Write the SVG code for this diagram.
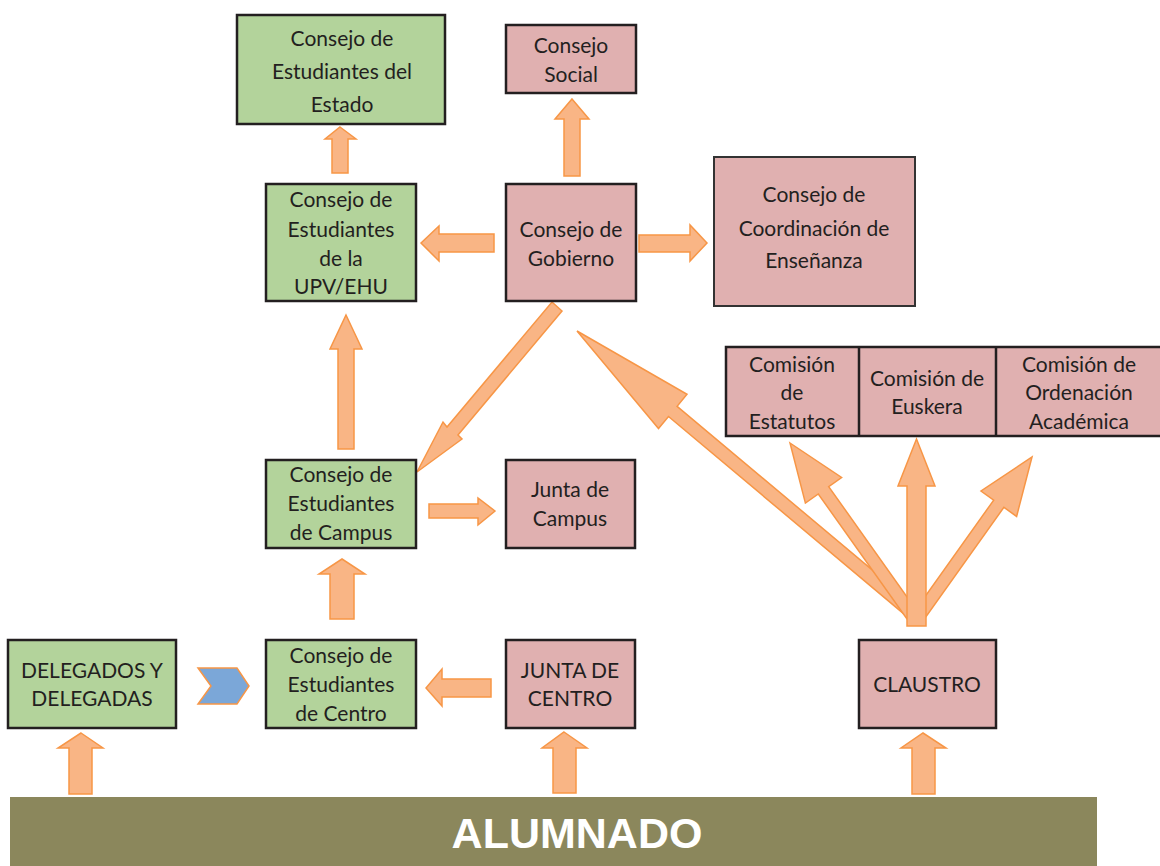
<svg xmlns="http://www.w3.org/2000/svg" width="1160" height="866" viewBox="0 0 1160 866">
<style>
.g{fill:#B3D39B;stroke:#231F20;stroke-width:2.5}
.p{fill:#E0B0B0;stroke:#231F20;stroke-width:2.5}
.t{font-family:Lato,"Open Sans","Liberation Sans",sans-serif;font-size:21px;fill:#231F20;text-anchor:middle}
.a{fill:#F9B585;stroke:#F79646;stroke-width:1.5;stroke-linejoin:miter}
</style>
<rect width="1160" height="866" fill="#FFFFFF"/>
<g id="alumnado">
<rect x="10" y="797" width="1087" height="69" fill="#8B875C"/>
<text x="577" y="848" font-family="'Liberation Sans',Arial,sans-serif" font-weight="bold" font-size="43" fill="#FFFFFF" text-anchor="middle">ALUMNADO</text>
</g>
<g id="connectors">
<polygon class="a" points="340,127 356,139 348,139 348,173 332,173 332,139 325,139"/>
<polygon class="a" points="572,99 589,119 580,119 580,176 564,176 564,119 555,119"/>
<polygon class="a" points="421,243 439,226 439,234 494,234 494,252 439,252 439,261"/>
<polygon class="a" points="707,243 690,225 690,235 639,235 639,252 690,252 690,261"/>
<polygon class="a" points="346,315 362,349 354,349 354,449 338,449 338,349 330,349"/>
<polygon class="a" points="552,302 562,311 458,435 462,439 417,472 443,422 447,427"/>
<polygon class="a" points="495,511 478,498 478,504 429,504 429,518 478,518 478,525"/>
<polygon class="a" points="342,559 365,574 354,574 354,619 330,619 330,574 319,574"/>
<polygon class="a" points="426,688 442,669 442,679 491,679 491,697 442,697 442,706"/>
<polygon points="198,668 237,668 249,686 237,704 198,704 211,686" fill="#7BA7D8" stroke="#F79646" stroke-width="1.5"/>
<polygon class="a" points="81,733 103,748 92,748 92,794 69,794 69,748 58,748"/>
<polygon class="a" points="564,732 587,748 576,748 576,793 553,793 553,748 542,748"/>
<polygon class="a" points="923,733 946,748 935,748 935,794 912,794 912,748 901,748"/>
<polygon class="a" points="577,331 687,394.3 677.1,406.3 916.3,606.9 907.7,617.1 668.5,416.5 658.5,428.5"/>
<polygon class="a" points="790,443 841.6,477.5 828.7,486.6 917.2,611.3 906.8,618.7 818.3,494 805.4,503.1"/>
<polygon class="a" points="1032,457 1016.6,516.4 1003.9,507.3 921,623.6 911,616.4 993.7,500.1 981,491"/>
<polygon class="a" points="916.5,439 935,486 926,486 926,626 907,626 907,486 898,486"/>
</g>
<g id="estado">
<rect class="g" x="237" y="15" width="208" height="109"/>
<text class="t" x="342" y="46">Consejo de</text>
<text class="t" x="342" y="79">Estudiantes del</text>
<text class="t" x="342" y="112">Estado</text>
</g>
<g id="social">
<rect class="p" x="506" y="25" width="130" height="68"/>
<text class="t" x="571" y="53">Consejo</text>
<text class="t" x="571" y="82">Social</text>
</g>
<g id="upv">
<rect class="g" x="266" y="184" width="150" height="117"/>
<text class="t" x="341" y="207">Consejo de</text>
<text class="t" x="341" y="237">Estudiantes</text>
<text class="t" x="341" y="266">de la</text>
<text class="t" x="341" y="294">UPV/EHU</text>
</g>
<g id="gobierno">
<rect class="p" x="506" y="184" width="130" height="117"/>
<text class="t" x="571" y="237">Consejo de</text>
<text class="t" x="571" y="266">Gobierno</text>
</g>
<g id="coordinacion">
<rect class="p" x="714" y="157" width="201" height="149" style="stroke:#333;stroke-width:2"/>
<text class="t" x="814" y="202">Consejo de</text>
<text class="t" x="814" y="236">Coordinación de</text>
<text class="t" x="814" y="268">Enseñanza</text>
</g>
<g id="comisiones">
<rect class="p" x="726" y="347" width="440" height="89"/>
<line x1="859" y1="347" x2="859" y2="436" stroke="#231F20" stroke-width="2.5"/>
<line x1="996" y1="347" x2="996" y2="436" stroke="#231F20" stroke-width="2.5"/>
<text class="t" x="792" y="372">Comisión</text>
<text class="t" x="792" y="400">de</text>
<text class="t" x="792" y="429">Estatutos</text>
<text class="t" x="927" y="386">Comisión de</text>
<text class="t" x="927" y="414">Euskera</text>
<text class="t" x="1079" y="372">Comisión de</text>
<text class="t" x="1079" y="400">Ordenación</text>
<text class="t" x="1079" y="429">Académica</text>
</g>
<g id="campus">
<rect class="g" x="266" y="460" width="150" height="88"/>
<text class="t" x="341" y="482">Consejo de</text>
<text class="t" x="341" y="511">Estudiantes</text>
<text class="t" x="341" y="540">de Campus</text>
</g>
<g id="junta-campus">
<rect class="p" x="506" y="460" width="129" height="88"/>
<text class="t" x="570" y="497">Junta de</text>
<text class="t" x="570" y="526">Campus</text>
</g>
<g id="delegados">
<rect class="g" x="8" y="640" width="168" height="88"/>
<text class="t" x="92" y="678">DELEGADOS Y</text>
<text class="t" x="92" y="706">DELEGADAS</text>
</g>
<g id="centro">
<rect class="g" x="266" y="640" width="150" height="88"/>
<text class="t" x="341" y="663">Consejo de</text>
<text class="t" x="341" y="692">Estudiantes</text>
<text class="t" x="341" y="721">de Centro</text>
</g>
<g id="junta-centro">
<rect class="p" x="506" y="640" width="129" height="88"/>
<text class="t" x="570" y="678">JUNTA DE</text>
<text class="t" x="570" y="706">CENTRO</text>
</g>
<g id="claustro">
<rect class="p" x="859" y="640" width="137" height="88"/>
<text class="t" x="927" y="692">CLAUSTRO</text>
</g>
</svg>
